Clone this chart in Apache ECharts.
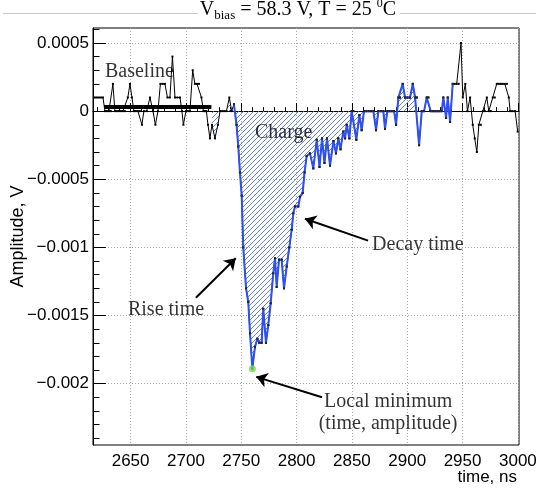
<!DOCTYPE html>
<html><head><meta charset="utf-8">
<script src="https://cdn.jsdelivr.net/npm/echarts@6/dist/echarts.min.js"></script>
<style>html,body{margin:0;padding:0;background:#fff}#c{width:536px;height:504px}</style>
</head><body><div id="c"></div>
<script>
// ---- data ----
const sampleTimes = [
 2617.8,2619.6,2621.4,2623.2,2625.0,2626.8,2628.6,2630.4,2632.2,2634.0,2635.8,2637.6,2639.4,2641.2,2643.0,2644.8,
 2647.5,2649.4,2651.2,2653.0,2654.8,2656.6,2658.4,2660.2,2662.0,2664.5,2667.5,2670.2,2672.4,2674.7,2676.9,2679.0,
 2681.0,2683.3,2685.5,2687.8,2690.1,2692.3,2694.6,2696.4,2697.7,2700.0,2701.8,2703.6,2706.1,2708.1,2710.0,2711.8,
 2714.0,2715.8,2717.2,2718.5,2719.9,2721.7,2723.5,2726.2,2728.9,2730.8,2732.7,2734.6,2736.6,2739.2,2741.3,
 2743.4,2745.7,2747.3,2748.8,2750.4,2751.8,2754.3,2756.3,2757.9,2760.0,2762.4,2764.5,2766.3,2768.4,2769.9,2772.3,
 2774.4,2776.6,2778.9,2780.5,2782.0,2784.1,2786.5,2788.6,2791.1,2793.4,2795.6,2797.0,2798.6,2801.5,2803.1,2805.5,
 2807.2,2809.1,2812.1,2815.1,2818.2,2820.7,2823.0,2825.2,2827.5,2830.2,2833.3,2835.6,2837.7,2839.7,2842.2,2843.8,
 2845.3,2847.7,2849.8,2851.3,2854.0,2856.7,2858.8,2860.9,2863.0,2865.1,2867.3,2869.4,2871.8,2873.9,2876.2,2878.4,
 2879.9,2882.0,2884.0,2886.0,2888.1,2889.9,2892.0,2893.5,2895.9,2898.0,2900.2,2902.5,2905.0,2907.1,2908.6,2910.7,
 2913.1,2915.2,2917.6,2919.1,2921.2,2923.2,2925.2,2927.2,2929.2,2931.2,2932.6,2935.1,2936.6,2938.7,2941.1,
 2942.9,2944.7,2946.5,2948.6,2950.2,2952.5,2954.4,2956.8,2959.2,2961.0,2962.9,2964.7,2966.5,2968.3,2970.1,2971.9,
 2973.7,2975.5,2977.3,2979.1,2980.9,2982.7,2984.5,2986.3,2988.2,2990.0,2991.8,2993.0,2995.0,2997.5,2999.8
];
const amplitudes = [
 0.0001,0.0001,0.0001,0.0001,0.0001,0,0,0,0,0.0002,0,0,0,0,0,0,
 0.0001,0.0002,0.0001,0,0,0,0,-0.0001,0,0,0.0001,0,-0.0001,0,0.0002,0.0002,
 0.0002,0.0001,0.0001,0.0004,0.0001,0.0001,0.0001,0,-0.0001,0,0,0,0.0003,0.0002,0.0002,0.0002,
 0.0001,0,0,0,-0.0001,-0.0002,-0.0001,-0.0002,-0.0001,0,0,0,0,0.0001,0,
 0.00005,-0.0001,-0.00026,-0.00045,-0.00062,-0.001,-0.0013,-0.0014,-0.00163,-0.00189,-0.00173,-0.00167,-0.0017,-0.0017,-0.00145,-0.0017,
 -0.00157,-0.00141,-0.00119,-0.00108,-0.00129,-0.00109,-0.00109,-0.0013,-0.00114,-0.001,-0.00087,-0.00075,-0.0007,-0.0007,-0.00063,-0.0006,
 -0.00045,-0.00033,-0.00031,-0.00042,-0.00021,-0.00041,-0.0002,-0.00038,-0.0002,-0.0004,-0.00022,-0.00031,-0.0002,-0.00028,-0.00015,-0.0002,
 -0.0001,-0.0002,0,0,-0.00021,-0.00003,-0.00014,0,0,0,0,0,-0.00014,0,0,0,
 -0.00013,0,0,0,0,-0.0001,0.0001,0.0001,0.0002,0.0001,0.0001,0.0001,0.0002,0.0001,0.0001,-0.00025,
 0,0,0.0001,0.0001,0,0,0,0,0,0,0.0001,-0.00005,0.0001,-0.00008,0.0002,
 0.0002,0.0002,0.0002,0.0005,0.0001,0.0002,0,0.0001,-0.0001,-0.0002,-0.0003,-0.0001,-0.0001,0,0,0.0001,
 0,0,0.0001,0.0001,0.0002,0.0002,0.0002,0.0002,0.0002,0.0002,0.0001,0,0,0,-0.00015
];
const pulseWindow = [2743.4, 2941.1];     // blue part of the waveform
const chargeWindow = [2723.5, 2908.6];    // hatched charge integral
const baselineWindow = [2626, 2723];
const baselineLevel = 0.00003;
const xTickValues = [2650, 2700, 2750, 2800, 2850, 2900, 2950, 3000];
const xTickLabels = ['2650', '2700', '2750', '2800', '2850', '2900', '2950', '3000'];
const yTickValues = [0.0005, 0, -0.0005, -0.001, -0.0015, -0.002];
const yTickLabels = ['0.0005', '0', '\u22120.0005', '\u22120.001', '\u22120.0015', '\u22120.002'];
const titleText = '{m|V}{sub|bias}{m| = 58.3 V, T = 25 }{sup|0}{m|C}';
const xName = 'time, ns';
const yName = 'Amplitude, V';
const annotations = [
  {text: 'Baseline', at: [2626.8, 0.00029], align: 'left'},
  {text: 'Charge', at: [2762.4, -0.00016], align: 'left'},
  {text: 'Decay time', at: [2868.2, -0.00098], align: 'left'},
  {text: 'Rise time', at: [2647.6, -0.00146], align: 'left'},
  {text: 'Local minimum\n(time, amplitude)', at: [2882.7, -0.00221], align: 'center'}
];
const arrows = [
  {from: [2864.6, -0.00095], to: [2807.5, -0.00079]},
  {from: [2709.0, -0.00137], to: [2745.0, -0.00108]},
  {from: [2823.0, -0.00210], to: [2763.5, -0.00195]}
];

// ---- derived ----
const xMin = 2616, xMax = 3001, yMin = -0.00245, yMax = 0.00061;
const allPts = sampleTimes.map((t, i) => [t, amplitudes[i]]);
const inWin = (w) => allPts.filter(p => p[0] >= w[0] - 1e-6 && p[0] <= w[1] + 1e-6);
const pulsePts = inWin(pulseWindow);
const chargePts = inWin(chargeWindow);
let minPt = pulsePts[0];
pulsePts.forEach(p => { if (p[1] < minPt[1]) minPt = p; });
const xMinor = []; for (let v = 2620; v <= 3000; v += 10) xMinor.push(v);
const yMinor = []; for (let k = -24; k <= 6; k++) yMinor.push(k * 0.0001);
const pick = (vals, labels) => (v) => { let b = 0; vals.forEach((t, i) => { if (Math.abs(t - v) < Math.abs(vals[b] - v)) b = i; }); return labels[b]; };

function makeHatch() {
  const s = 5;
  const c = document.createElement('canvas'); c.width = s; c.height = s;
  const g = c.getContext('2d');
  g.fillStyle = '#6282f0';
  for (let i = 0; i < s; i++) g.fillRect(i, s - 1 - i, 1, 1);
  return c;
}

const SANS = '"Liberation Sans", Arial, sans-serif';
const SERIF = '"Liberation Serif", "Times New Roman", serif';
const chart = echarts.init(document.getElementById('c'), null, {renderer: 'canvas'});
const hidden = {show: false};
chart.setOption({
  animation: false,
  backgroundColor: '#fff',
  grid: {left: 93, top: 28, width: 426, height: 417, show: true, borderColor: '#000', borderWidth: 1,
         backgroundColor: 'transparent', containLabel: false, outerBoundsMode: 'none'},
  xAxis: [{
    type: 'value', min: xMin, max: xMax, splitNumber: 8, position: 'bottom',
    axisLine: {show: true, lineStyle: {color: '#000', width: 1}},
    axisTick: {show: true, inside: true, length: 8, customValues: xTickValues, lineStyle: {color: '#000'}},
    axisLabel: {customValues: xTickValues, color: '#000', fontFamily: SANS, fontSize: 17, margin: 8,
      formatter: pick(xTickValues, xTickLabels)},
    splitLine: {show: true, lineStyle: {color: '#a8a8a8', type: [1, 2], width: 1}}
  }, {
    type: 'value', min: xMin, max: xMax, position: 'bottom',
    axisLine: hidden, axisLabel: hidden, splitLine: hidden,
    axisTick: {show: true, inside: true, length: 4, customValues: xMinor, lineStyle: {color: '#000'}}
  }],
  yAxis: [{
    type: 'value', min: yMin, max: yMax, splitNumber: 5,
    name: yName, nameLocation: 'middle', nameGap: 66, nameMoveOverlap: false,
    nameTextStyle: {color: '#000', fontFamily: SANS, fontSize: 18},
    axisLine: {show: true, lineStyle: {color: '#000', width: 1}},
    axisTick: {show: true, inside: true, length: 13, customValues: yTickValues, lineStyle: {color: '#000'}},
    axisLabel: {customValues: yTickValues, color: '#000', fontFamily: SANS, fontSize: 17, margin: 4,
      formatter: pick(yTickValues, yTickLabels)},
    splitLine: {show: true, lineStyle: {color: '#a8a8a8', type: [1, 2], width: 1}}
  }, {
    type: 'value', min: yMin, max: yMax, position: 'left',
    axisLine: hidden, axisLabel: hidden, splitLine: hidden,
    axisTick: {show: true, inside: true, length: 6.5, customValues: yMinor, lineStyle: {color: '#000'}}
  }],
  series: [
    {type: 'line', name: 'charge', data: chargePts, showSymbol: false, lineStyle: {width: 0, opacity: 0},
     areaStyle: {color: {image: makeHatch(), repeat: 'repeat'}, opacity: 1}, z: 1, silent: true},
    {type: 'line', name: 'waveform', data: allPts, symbol: 'rect', symbolSize: 2, showSymbol: true,
     itemStyle: {color: '#000'}, lineStyle: {color: '#000', width: 1}, z: 2, silent: true},
    {type: 'line', name: 'pulse', data: pulsePts, symbol: 'rect', symbolSize: 2, showSymbol: true,
     itemStyle: {color: '#222'}, lineStyle: {color: '#2f50f0', width: 2}, z: 3, silent: true},
    {type: 'line', name: 'baseline', data: [[baselineWindow[0], baselineLevel], [baselineWindow[1], baselineLevel]],
     showSymbol: false, lineStyle: {color: '#000', width: 4}, z: 4, silent: true,
     markLine: {silent: true, symbol: ['none', 'arrow'], symbolSize: 11, animation: false,
       label: {show: false}, lineStyle: {color: '#000', width: 2, type: 'solid'},
       itemStyle: {color: '#000'},
       data: arrows.map(a => [{coord: a.from}, {coord: a.to}])}},
    {type: 'scatter', name: 'minimum', data: [minPt], symbol: 'circle', symbolSize: 7,
     itemStyle: {color: '#6fdc4f'}, z: 5, silent: true},
    {type: 'scatter', name: 'notes', symbolSize: 0, z: 6, silent: true,
     data: annotations.map(a => ({value: a.at, name: a.text,
       label: {show: true, position: [0, 0], formatter: a.text, align: a.align, verticalAlign: 'middle',
         color: '#000', fontFamily: SERIF, fontSize: 20, lineHeight: 22}}))}
  ],
  graphic: [
    {type: 'line', shape: {x1: 3, y1: 13.5, x2: 536, y2: 13.5}, style: {stroke: '#c8c8c8', lineWidth: 1}, z: 0},
    {type: 'rect', shape: {x: 198, y: 0, width: 202, height: 24}, style: {fill: '#fff'}, z: 1},
    {type: 'text', x: 298, y: 10, z: 2, style: {text: titleText, align: 'center', verticalAlign: 'middle', fill: '#000',
      rich: {
        m: {fontFamily: SERIF, fontSize: 20, lineHeight: 24, verticalAlign: 'middle', color: '#000'},
        sub: {fontFamily: SERIF, fontSize: 13, lineHeight: 13, verticalAlign: 'bottom', color: '#000'},
        sup: {fontFamily: SERIF, fontSize: 12, lineHeight: 16, verticalAlign: 'top', color: '#000'}
      }}},
    {type: 'text', x: 517, y: 477, z: 2, style: {text: xName, align: 'right', verticalAlign: 'middle', fill: '#000',
      font: '17px "Liberation Sans"'}}
  ]
});
</script></body></html>
